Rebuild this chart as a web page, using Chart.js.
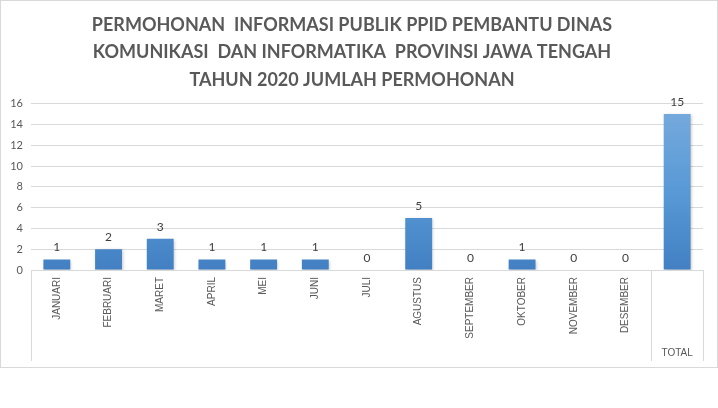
<!DOCTYPE html>
<html lang="id">
<head>
    <meta charset="UTF-8">
    <title>Permohonan Informasi Publik 2020</title>
    <script src="https://cdn.jsdelivr.net/npm/chart.js"></script>
    <style>
        body {
            margin: 0;
            background-color: #fff;
        }
        .chart-box {
            width: 716px;
            height: 366px;
            border: 1px solid #d9d9d9;
            position: relative;
        }
    </style>
</head>
<body>
    <div class="chart-box">
        <canvas id="chartCanvas"></canvas>
    </div>
    <script>
        // data grafik
        const judul = [
            'PERMOHONAN  INFORMASI PUBLIK PPID PEMBANTU DINAS',
            'KOMUNIKASI  DAN INFORMATIKA  PROVINSI JAWA TENGAH',
            'TAHUN 2020 JUMLAH PERMOHONAN'
        ];
        const bulan = ['JANUARI', 'FEBRUARI', 'MARET', 'APRIL', 'MEI', 'JUNI', 'JULI',
            'AGUSTUS', 'SEPTEMBER', 'OKTOBER', 'NOVEMBER', 'DESEMBER', ''];
        const grup = ['', '', '', '', '', '', '', '', '', '', '', '', 'TOTAL'];
        const jumlah = [1, 2, 3, 1, 1, 1, 0, 5, 0, 1, 0, 0, 15];
        const batasGrup = [-0.5, 11.5, 12.5];
        const yMin = 0, yMax = 16, yStep = 2;

        const abu = '#d9d9d9';
        const teks = '#595959';

        // gradasi per batang + bayangan tipis
        const gayaBatang = {
            id: 'gayaBatang',
            beforeDatasetsDraw(chart) {
                const ctx = chart.ctx;
                chart.getDatasetMeta(0).data.forEach(bar => {
                    const g = ctx.createLinearGradient(0, bar.y, 0, bar.base);
                    g.addColorStop(0, '#74a9dc');
                    g.addColorStop(0.5, '#5899d6');
                    g.addColorStop(1, '#4280c3');
                    bar.options.backgroundColor = g;
                });
                ctx.save();
                ctx.shadowColor = 'rgba(0,0,0,0.22)';
                ctx.shadowBlur = 3;
                ctx.shadowOffsetX = 1;
                ctx.shadowOffsetY = 1;
            },
            afterDatasetsDraw(chart) {
                const ctx = chart.ctx;
                ctx.restore();
                // label nilai di atas batang
                ctx.save();
                ctx.font = '12px Lato';
                ctx.fillStyle = '#404040';
                ctx.textAlign = 'center';
                ctx.textBaseline = 'bottom';
                const ds = chart.data.datasets[0];
                chart.getDatasetMeta(0).data.forEach((bar, i) => {
                    ctx.fillText(ds.data[i], bar.x, bar.y - 6);
                });
                ctx.restore();
            }
        };

        // garis pemisah grup kategori di bawah sumbu
        const garisGrup = {
            id: 'garisGrup',
            afterDraw(chart) {
                const x = chart.scales.x, x2 = chart.scales.x2;
                const ctx = chart.ctx;
                ctx.save();
                ctx.strokeStyle = abu;
                ctx.lineWidth = 1;
                batasGrup.forEach(v => {
                    const px = Math.round(x.getPixelForValue(v)) + 0.5;
                    ctx.beginPath();
                    ctx.moveTo(px, x.top);
                    ctx.lineTo(px, x2.bottom);
                    ctx.stroke();
                });
                ctx.restore();
            }
        };

        const ctx = document.getElementById('chartCanvas').getContext('2d');
        const chart = new Chart(ctx, {
            type: 'bar',
            data: {
                labels: bulan,
                datasets: [{
                    label: 'Jumlah Permohonan',
                    data: jumlah,
                    backgroundColor: '#5b9bd5',
                    barPercentage: 0.52,
                    categoryPercentage: 1
                }]
            },
            options: {
                responsive: true,
                maintainAspectRatio: false,
                animation: false,
                layout: { padding: { left: 0, right: 14, top: 0, bottom: 6 } },
                plugins: {
                    legend: { display: false },
                    tooltip: { enabled: false },
                    title: {
                        display: true,
                        text: judul,
                        color: teks,
                        font: { family: 'Lato', size: 18, weight: 'bold', lineHeight: 1.53 },
                        padding: { top: 10, bottom: 10 }
                    }
                },
                scales: {
                    x: {
                        grid: { display: true, drawOnChartArea: false, drawTicks: false },
                        border: { display: false },
                        ticks: {
                            color: teks,
                            font: { family: 'Liberation Sans', size: 10 },
                            minRotation: 90,
                            maxRotation: 90,
                            autoSkip: false,
                            padding: 7
                        },
                        afterFit(scale) { scale.height = 72; }
                    },
                    x2: {
                        type: 'category',
                        labels: grup,
                        position: 'bottom',
                        offset: true,
                        weight: 1,
                        grid: { display: false, drawTicks: false },
                        border: { display: false },
                        ticks: {
                            color: teks,
                            font: { family: 'Liberation Sans', size: 10 },
                            maxRotation: 0,
                            autoSkip: false,
                            padding: 5
                        },
                        afterFit(scale) { scale.height = 19; }
                    },
                    y: {
                        min: yMin,
                        max: yMax,
                        ticks: {
                            stepSize: yStep,
                            color: teks,
                            font: { family: 'Lato', size: 11 },
                            padding: 8
                        },
                        grid: { color: abu, drawTicks: false },
                        border: { display: false },
                        afterFit(scale) { scale.width = 30; }
                    }
                }
            },
            plugins: [gayaBatang, garisGrup]
        });
    </script>
</body>
</html>
